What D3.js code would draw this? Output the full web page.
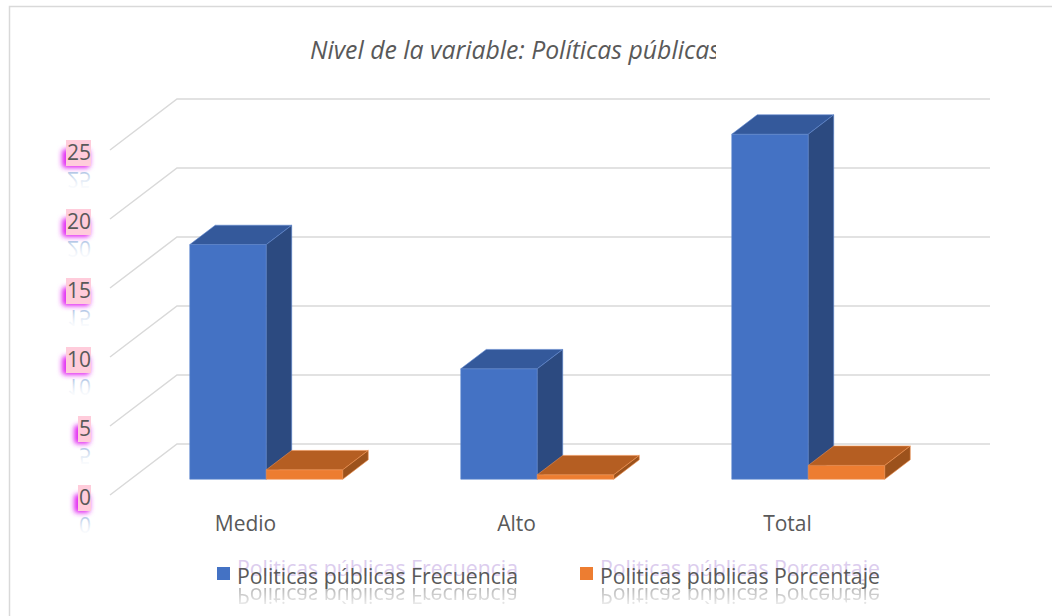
<!DOCTYPE html>
<html>
<head>
<meta charset="utf-8">
<script src="https://cdn.jsdelivr.net/npm/d3@7"></script>
<style>
  body { margin: 0; background: #fff; }
  svg text { font-family: "Open Sans", "Noto Sans", sans-serif; }
</style>
</head>
<body>
<div id="viz_container"></div>
<script>
// data
const categories = ["Medio", "Alto", "Total"];
const series = ["Politicas públicas Frecuencia", "Politicas públicas Porcentaje"];
const frecuencia = [17, 8, 25];
const porcentaje = [0.68, 0.32, 1];
const yTicks = [0, 5, 10, 15, 20, 25];
const title = "Nivel de la variable: Políticas públicas";

const W = 1052, H = 616;

// 3d frame: front floor line, depth vector
const floorY = 495, frontLeft = 110, frontRight = 923;
const depthX = 67, depthY = -51;
const barD0 = 0.31, barD1 = 0.69;

const svg = d3.select("#viz_container")
    .append("svg")
    .attr("width", W)
    .attr("height", H);

const defs = svg.append("defs");
defs.append("filter").attr("id", "glow")
    .attr("x", "-80%").attr("y", "-80%").attr("width", "260%").attr("height", "260%")
    .append("feGaussianBlur").attr("stdDeviation", 2.6);
const refl = defs.append("linearGradient").attr("id", "refl")
    .attr("x1", 0).attr("y1", 0).attr("x2", 0).attr("y2", 1);
refl.append("stop").attr("offset", "0%").attr("stop-color", "#ffffff").attr("stop-opacity", 1);
refl.append("stop").attr("offset", "100%").attr("stop-color", "#8a8a8a").attr("stop-opacity", 1);
const reflB = defs.append("linearGradient").attr("id", "reflB")
    .attr("x1", 0).attr("y1", 0).attr("x2", 0).attr("y2", 1);
reflB.append("stop").attr("offset", "0%").attr("stop-color", "#ffffff").attr("stop-opacity", 0);
reflB.append("stop").attr("offset", "100%").attr("stop-color", "#7fa3d4").attr("stop-opacity", 1);

// chart border
svg.append("rect")
    .attr("x", 9.5).attr("y", 6.5)
    .attr("width", 1100).attr("height", 700)
    .attr("fill", "none")
    .attr("stroke", "#d9d9d9")
    .attr("stroke-width", 1.5);

// scales
const y = d3.scaleLinear().domain([0, 25]).range([0, 345]);
const x = d3.scaleBand().domain(categories).range([frontLeft, frontRight]);
const xSub = d3.scaleBand().domain(series).range([0, x.bandwidth()])
    .paddingInner(0).paddingOuter(0.771);
const color = d3.scaleOrdinal().domain(series).range([
    { front: "#4472c4", top: "#34599b", side: "#2c4a80", edge: "#5f88d0" },
    { front: "#ed7d31", top: "#b55e22", side: "#9c521c", edge: "#f0914f" }
]);

// project front-plane x, value, depth fraction -> screen
const P = (px, v, d) => [px + d * depthX, floorY - y(v) + d * depthY];

// gridlines (side wall diagonal + back wall)
const grid = svg.append("g");
yTicks.forEach(v => {
    const pts = [P(frontLeft, v, 0), P(frontLeft, v, 1), P(frontRight, v, 1)];
    grid.append("path")
        .attr("d", d3.line()(pts))
        .attr("fill", "none")
        .attr("stroke", "#d9d9d9")
        .attr("stroke-width", 1.5);
});

// tick labels with the pink box / magenta glow of the original
const ticks = svg.append("g");
yTicks.forEach(v => {
    const [, ty] = P(frontLeft, v, 0);
    const g = ticks.append("g").attr("transform", `translate(91,${ty + 3})`);
    const t = g.append("text")
        .attr("text-anchor", "end")
        .attr("dy", "0.35em")
        .attr("font-size", 21)
        .attr("fill", "#595959")
        .text(v);
    const tw = t.node().getComputedTextLength();
    g.insert("rect", "text")
        .attr("x", -tw - 5).attr("y", -4)
        .attr("width", tw + 4).attr("height", 19)
        .attr("rx", 4)
        .attr("fill", "#e12cf2")
        .attr("filter", "url(#glow)");
    g.insert("rect", "text")
        .attr("x", -tw - 1).attr("y", -13)
        .attr("width", tw + 1).attr("height", 26)
        .attr("fill", "#ffccdb");
    g.append("text")
        .attr("text-anchor", "end")
        .attr("transform", "translate(0,26) scale(1,-1)")
        .attr("dy", "0.35em")
        .attr("font-size", 21)
        .attr("fill", "url(#reflB)")
        .text(v);
    g.node().appendChild(t.node());
});

// bars, left to right so nearer faces overlap correctly
const bars = [];
categories.forEach((c, i) => {
    bars.push({ cat: c, s: series[0], v: frecuencia[i] });
    bars.push({ cat: c, s: series[1], v: porcentaje[i] });
});
const barG = svg.append("g");
bars.forEach(b => {
    const x0 = x(b.cat) + xSub(b.s), x1 = x0 + xSub.bandwidth();
    const col = color(b.s);
    const g = barG.append("g")
        .attr("stroke", col.edge)
        .attr("stroke-width", 0.6)
        .attr("stroke-linejoin", "round");
    g.append("path")
        .attr("d", d3.line()([P(x0, 0, barD0), P(x1, 0, barD0), P(x1, b.v, barD0), P(x0, b.v, barD0)]) + "Z")
        .attr("fill", col.front);
    g.append("path")
        .attr("d", d3.line()([P(x0, b.v, barD0), P(x1, b.v, barD0), P(x1, b.v, barD1), P(x0, b.v, barD1)]) + "Z")
        .attr("fill", col.top);
    g.append("path")
        .attr("d", d3.line()([P(x1, 0, barD0), P(x1, 0, barD1), P(x1, b.v, barD1), P(x1, b.v, barD0)]) + "Z")
        .attr("fill", col.side);
});

// category labels
svg.append("g").selectAll("text")
    .data(categories)
    .join("text")
    .attr("x", d => x(d) + x.bandwidth() / 2)
    .attr("y", 531)
    .attr("text-anchor", "middle")
    .attr("font-size", 21)
    .attr("fill", "#595959")
    .text(d => d);

// title, clipped at the right like the original
defs.append("clipPath").attr("id", "titleClip")
    .append("rect").attr("x", 0).attr("y", 0).attr("width", 716).attr("height", 100);
const titleText = svg.append("text")
    .attr("clip-path", "url(#titleClip)")
    .attr("x", 310)
    .attr("y", 59)
    .attr("font-size", 20)
    .attr("font-style", "italic")
    .attr("fill", "#595959")
    .text(title);
const tl = titleText.node().getComputedTextLength();
titleText.attr("font-size", 20 * 410 / tl);

// legend with ghost and reflection
const legendX = [217, 580];
const legendW = [281, 280];
series.forEach((s, i) => {
    const g = svg.append("g").attr("transform", `translate(${legendX[i]},0)`);
    defs.append("clipPath").attr("id", "lc" + i)
        .append("rect").attr("x", 0).attr("y", 540).attr("width", 20 + legendW[i]).attr("height", 76);
    const gc = g.append("g").attr("clip-path", `url(#lc${i})`);
    const mk = (yy, fill, tr) => {
        const t = gc.append("text")
            .attr("x", 20)
            .attr("y", yy)
            .attr("font-size", 20)
            .attr("fill", fill)
            .text(s);
        if (tr) t.attr("transform", tr);
        return t;
    };
    const ghost = mk(576, "#dccdee");
    const refText = mk(0, "url(#refl)", "translate(0,587) scale(1,-1.05)");
    refText.attr("y", -1).attr("opacity", 0.75);
    const main = mk(584, "#595959");
    const lw = main.node().getComputedTextLength();
    const fs = 20 * legendW[i] / lw;
    [ghost, refText, main].forEach(t => t.attr("font-size", fs));
    g.append("rect")
        .attr("x", 0).attr("y", 567)
        .attr("width", 13).attr("height", 13)
        .attr("fill", color(s).front);
});
</script>
</body>
</html>
